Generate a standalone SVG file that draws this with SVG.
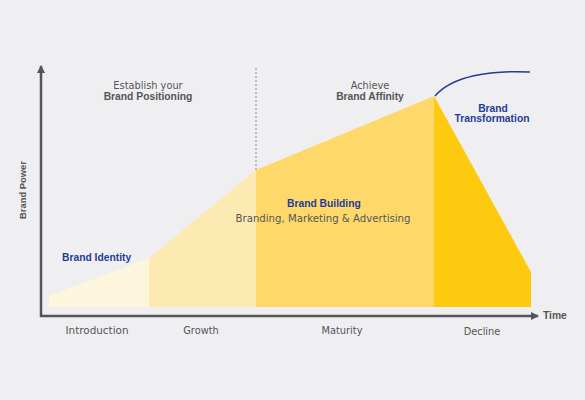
<svg xmlns="http://www.w3.org/2000/svg" width="585" height="400" viewBox="0 0 585 400">
<style>
.t{font-family:"DejaVu Sans",Verdana,sans-serif;font-size:9.8px;fill:#555558}
.b{font-family:"Liberation Sans",Arial,sans-serif;font-size:10.3px;font-weight:bold}
.bl{font-family:"Liberation Sans",Arial,sans-serif;font-size:10.3px;font-weight:bold;fill:#1f3c98}
.m{text-anchor:middle}
</style>
<defs>
<marker id="ah" markerWidth="8" markerHeight="8" refX="7" refY="4" orient="auto" markerUnits="userSpaceOnUse">
<path d="M0,0 L8,4 L0,8 Z" fill="#555558"/>
</marker>
</defs>
<rect width="585" height="400" fill="#efeff1"/>
<g id="stages">
<polygon id="intro" points="49,296 149,258 149,307 49,307" fill="#fdf5dc"/>
<polygon id="growth" points="149,258 256,170 256,307 149,307" fill="#fde9b2"/>
<polygon id="maturity" points="256,170 434,96 434,307 256,307" fill="#fed96a"/>
<polygon id="decline" points="434,96 531,272 531,307 434,307" fill="#fdca0f"/>
</g>
<g id="connectors">
<line x1="256" y1="68" x2="256" y2="170" stroke="#aaaaae" stroke-width="1.5" stroke-dasharray="2,2"/>
<line x1="41" y1="317" x2="41" y2="66" stroke="#555558" stroke-width="2.5" marker-end="url(#ah)"/>
<line x1="40" y1="316" x2="538" y2="316" stroke="#555558" stroke-width="2.5" marker-end="url(#ah)"/>
<path d="M435,96 C452,76 490,70 530,72" fill="none" stroke="#1f3c98" stroke-width="1.5"/>
</g>
<g id="labels">
<text class="t m" x="148" y="89">Establish your</text>
<text class="t b m" x="148" y="100">Brand Positioning</text>
<text class="t m" x="370" y="89">Achieve</text>
<text class="t b m" x="370" y="100">Brand Affinity</text>
<text class="bl m" x="493" y="112">Brand</text>
<text class="bl m" x="492" y="122">Transformation</text>
<text class="bl" x="62" y="261">Brand Identity</text>
<text class="bl" x="287" y="207">Brand Building</text>
<text class="t m" x="323" y="222" textLength="175" lengthAdjust="spacingAndGlyphs">Branding, Marketing &amp; Advertising</text>
<text class="t m" x="97" y="334" textLength="63" lengthAdjust="spacingAndGlyphs">Introduction</text>
<text class="t m" x="201" y="334">Growth</text>
<text class="t m" x="342" y="334">Maturity</text>
<text class="t m" x="482" y="335">Decline</text>
<text class="t b" x="543" y="319">Time</text>
<text class="t b m" x="26" y="190" transform="rotate(-90 26 190)" style="font-size:9.4px">Brand Power</text>
</g>
</svg>
